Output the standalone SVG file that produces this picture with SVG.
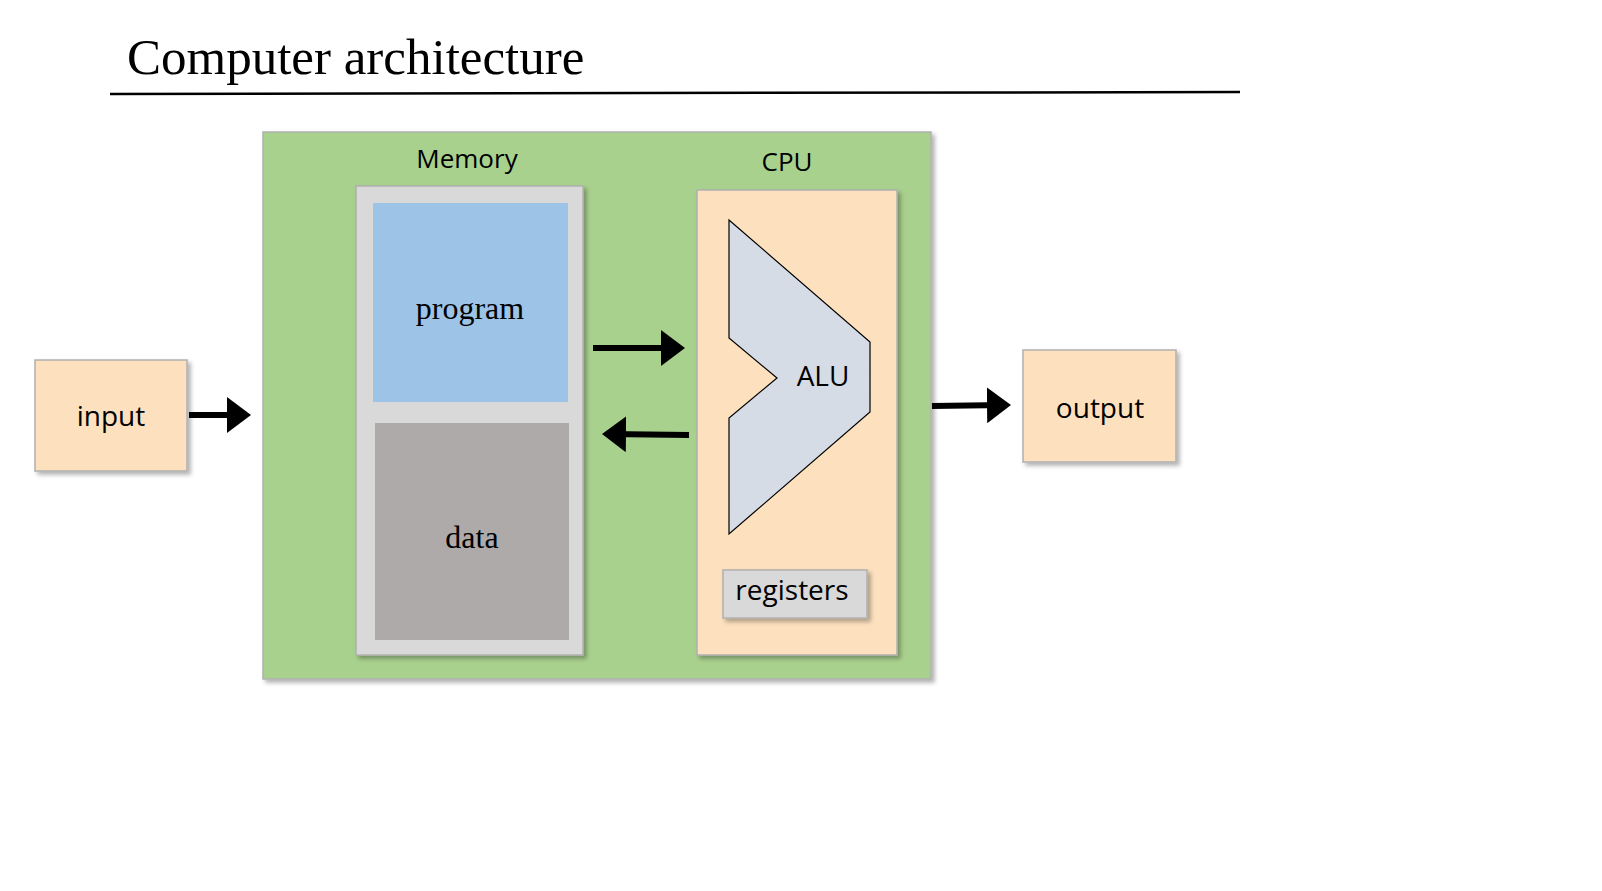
<svg xmlns="http://www.w3.org/2000/svg" width="1602" height="891" viewBox="0 0 1602 891">
<style>
.s{font-family:"Open Sans","Noto Sans",sans-serif;fill:#000;text-anchor:middle}
.r{font-family:"Liberation Serif",serif;fill:#000;text-anchor:middle}
.box{stroke:#b0b0b0;stroke-width:1.5}
.c{stroke:#000;stroke-width:6;fill:none;marker-end:url(#ah)}
</style>
<defs>
<filter id="sh" x="-10%" y="-10%" width="130%" height="130%"><feDropShadow dx="3" dy="3" stdDeviation="2" flood-color="#000" flood-opacity="0.3"/></filter>
<marker id="ah" markerWidth="5" markerHeight="6" refX="3" refY="3" orient="auto" markerUnits="strokeWidth" viewBox="0 0 5 6"><path d="M0,0 L4,3 L0,6 Z" fill="#000"/></marker>
</defs>
<rect width="1602" height="891" fill="#fff"/>
<g id="title"><text x="127" y="74" font-family="Liberation Serif,serif" font-size="51">Computer architecture</text>
<line x1="110" y1="94" x2="1240" y2="92" stroke="#000" stroke-width="2.5"/></g>
<g id="computer"><rect x="263" y="132" width="668" height="547" fill="#a9d18e" class="box" filter="url(#sh)"/></g>
<g id="memory"><text x="467" y="168" class="s" font-size="26">Memory</text>
<rect x="356" y="186" width="227" height="469" fill="#d9d9d9" class="box" filter="url(#sh)"/></g>
<g id="program"><rect x="373" y="203" width="195" height="199" fill="#9dc3e6"/><text x="470" y="319" class="r" font-size="32">program</text></g>
<g id="data"><rect x="375" y="423" width="194" height="217" fill="#aeaaaa"/><text x="472" y="548" class="r" font-size="32">data</text></g>
<g id="cpu"><text x="787" y="171" class="s" font-size="26">CPU</text>
<rect x="697" y="190" width="200" height="465" fill="#fde0be" class="box" filter="url(#sh)"/></g>
<g id="alu"><polygon points="729,220 870,342 870,412 729,534 729,418 777,378 729,338" fill="#d6dce5" stroke="#000" stroke-width="1.2"/><text x="823" y="386" class="s" font-size="28">ALU</text></g>
<g id="registers"><rect x="723" y="570" width="144" height="48" fill="#d9d9d9" class="box" filter="url(#sh)"/><text x="792" y="600" class="s" font-size="28">registers</text></g>
<g id="input"><rect x="35" y="360" width="152" height="111" fill="#fde0be" class="box" filter="url(#sh)"/><text x="111" y="426" class="s" font-size="28">input</text></g>
<g id="output"><rect x="1023" y="350" width="153" height="112" fill="#fde0be" class="box" filter="url(#sh)"/><text x="1100" y="418" class="s" font-size="28">output</text></g>
<g id="connectors">
<line x1="189" y1="415" x2="245" y2="415" class="c"/>
<line x1="593" y1="348" x2="679" y2="348" class="c"/>
<line x1="689" y1="435" x2="608" y2="434" class="c"/>
<line x1="932" y1="406" x2="1005" y2="405" class="c"/>
</g>
</svg>
